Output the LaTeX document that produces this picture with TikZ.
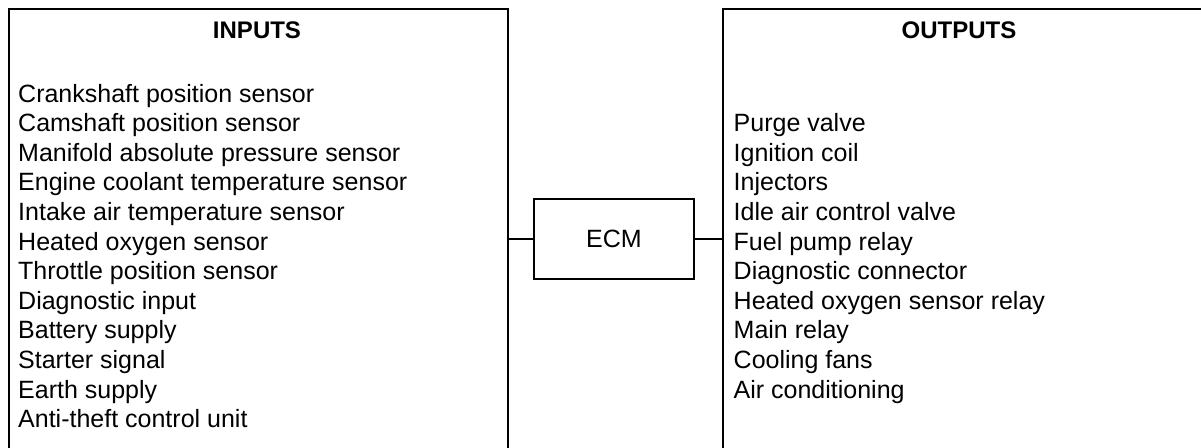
\documentclass[tikz,border=0pt]{standalone}
\usepackage{fontspec}
\setmainfont{Liberation Sans}
\usetikzlibrary{positioning}

\begin{document}
\begin{tikzpicture}[
  x=1pt, y=1pt,
  font=\fontsize{25}{29.6}\selectfont,
  panel/.style={draw=black, line width=1.8pt, anchor=north west, inner sep=0pt, minimum height=470pt},
  module/.style={draw=black, line width=1.8pt, minimum width=160pt, minimum height=80pt, inner sep=0pt},
  wire/.style={draw=black, line width=1.8pt},
  heading/.style={font=\fontsize{24}{29.6}\selectfont\bfseries, anchor=base, inner sep=0pt},
  item/.style={anchor=base west, inner sep=0pt}
]
  \useasboundingbox (0,0) rectangle (1201,-447);
  \clip (0,0) rectangle (1201,-447);

  \node[panel, minimum width=499pt] (inputs) at (8,-8) {};
  \node[panel, minimum width=484pt] (outputs) at (722,-8) {};
  \node[module] (ecm) at (614,-239) {ECM};

  \node[heading] (inhead) at (257,-38) {INPUTS};
  \node[heading] (outhead) at (959,-38) {OUTPUTS};

  \foreach \txt [count=\i] in {Crankshaft position sensor, Camshaft position sensor,
      Manifold absolute pressure sensor, Engine coolant temperature sensor,
      Intake air temperature sensor, Heated oxygen sensor, Throttle position sensor,
      Diagnostic input, Battery supply, Starter signal, Earth supply,
      Anti-theft control unit} {
    \node[item] (in\i) at (18,{-102-(\i-1)*29.6}) {\txt};
  }
  \foreach \txt [count=\i] in {Purge valve, Ignition coil, Injectors,
      Idle air control valve, Fuel pump relay, Diagnostic connector,
      Heated oxygen sensor relay, Main relay, Cooling fans, Air conditioning} {
    \node[item] (out\i) at (733.5,{-131.6-(\i-1)*29.6}) {\txt};
  }

  \draw[wire] (ecm.west) -- (ecm.west -| inputs.east);
  \draw[wire] (ecm.east) -- (ecm.east -| outputs.west);
\end{tikzpicture}
\end{document}
